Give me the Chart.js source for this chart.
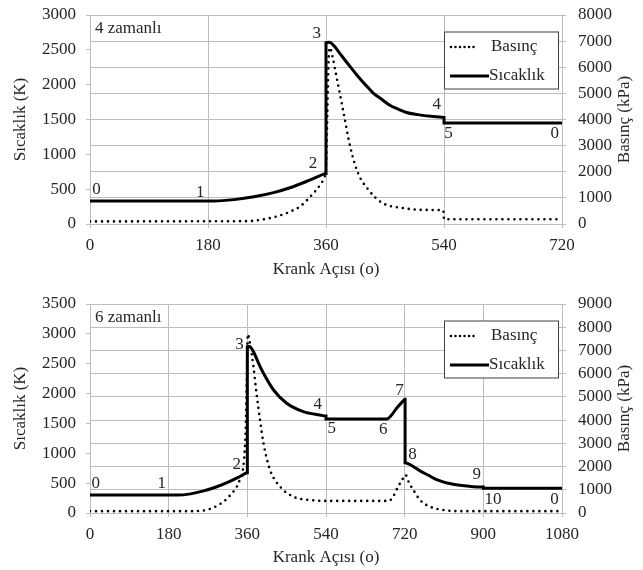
<!DOCTYPE html>
<html>
<head>
<meta charset="utf-8">
<script src="https://cdn.jsdelivr.net/npm/chart.js@4.4.1/dist/chart.umd.min.js"></script>
<style>
  body { margin: 0; background: #fff; }
  canvas { display: block; }
</style>
</head>
<body>
<canvas id="chart4" width="643" height="285"></canvas>
<canvas id="chart6" width="643" height="285"></canvas>
<script>
// 4 zamanli - sicaklik (K) ve basinc (kPa), krank acisina gore
const angle4T = [0, 190, 220, 250, 280, 305, 330, 350, 360, 360, 365, 372, 381, 395, 407, 420, 432, 445, 458, 470, 483, 500, 520, 540, 540, 720];
const temp4 = [330, 330, 350, 390, 450, 520, 610, 690, 725, 2600, 2610, 2560, 2450, 2280, 2140, 2000, 1880, 1790, 1700, 1650, 1600, 1570, 1545, 1530, 1450, 1450];
const angle4P = [0, 240, 255, 270, 290, 305, 320, 336, 351, 358, 360, 362, 364, 366, 370, 376, 386, 397, 409, 425, 445, 480, 510, 539, 540, 720];
const pres4 = [100, 110, 140, 200, 330, 470, 663, 1047, 1494, 1812, 2100, 4200, 6300, 6750, 6400, 5640, 4366, 2950, 1940, 1300, 820, 600, 540, 520, 180, 180];
const marks4 = ['0', '1', '2', '3', '4', '5', '0'];
const markAngle4 = [10, 168, 340, 346, 529, 547, 709];
const markTemp4 = [490, 445, 875, 2735, 1710, 1300, 1300];

// 6 zamanli
const angle6T = [0, 200, 230, 260, 290, 320, 345, 360, 360, 365, 374, 385, 397, 420, 450, 488, 526, 540, 540, 679, 690, 700, 712, 721, 721, 735, 755, 775, 793, 831, 870, 900, 900, 1080];
const temp6 = [300, 300, 320, 370, 440, 530, 620, 675, 2786, 2790, 2700, 2520, 2340, 2060, 1837, 1697, 1641, 1625, 1575, 1575, 1640, 1740, 1840, 1905, 843, 800, 705, 630, 560, 480, 445, 435, 415, 415];
const angle6P = [0, 240, 270, 297, 320, 343, 352, 356, 359, 361, 366, 374, 381, 389, 397, 412, 435, 465, 503, 556, 680, 690, 705, 715, 722, 730, 740, 755, 778, 809, 840, 1080];
const pres6 = [80, 80, 150, 380, 750, 1450, 2200, 3500, 6000, 7700, 7300, 6300, 5154, 4005, 3001, 1852, 1134, 703, 560, 520, 520, 600, 1134, 1450, 1640, 1300, 990, 560, 273, 130, 80, 80];
const marks6 = ['0', '1', '2', '3', '4', '5', '6', '7', '8', '9', '10', '0'];
const markAngle6 = [13, 164, 336, 342, 521, 553, 671, 708, 738, 885, 922, 1063];
const markTemp6 = [497, 497, 804, 2814, 1809, 1419, 1390, 2049, 972, 637, 218, 218];

const FONT = '"Liberation Serif"';
const TXT = '#262626';
const GRID = '#bdbdbd';

const overlay = {
    id: 'overlay',
    afterDatasetsDraw(chart, args, opts) {
        const { ctx, chartArea: area, scales } = chart;
        ctx.save();
        ctx.font = '17px ' + FONT;
        ctx.fillStyle = TXT;
        ctx.textBaseline = 'middle';

        // point numbers
        ctx.textAlign = 'center';
        opts.marks.forEach((m, i) => {
            ctx.fillText(m, scales.x.getPixelForValue(opts.markAngle[i]), scales.y.getPixelForValue(opts.markTemp[i]));
        });

        // "4 zamanli" label
        ctx.textAlign = 'left';
        ctx.fillText(opts.label, area.left + 5, area.top + opts.labelDy);

        // right axis title (reads bottom to top)
        ctx.save();
        ctx.translate(625, (area.top + area.bottom) / 2);
        ctx.rotate(-Math.PI / 2);
        ctx.textAlign = 'center';
        ctx.fillText('Basınç (kPa)', 0, 0);
        ctx.restore();

        // legend box
        const ds = chart.data.datasets;
        const left = area.right - 118, top = area.top + 16.5, w = 114, h = 57;
        ctx.fillStyle = '#fff';
        ctx.fillRect(left, top, w, h);
        ctx.strokeStyle = '#404040';
        ctx.lineWidth = 1;
        ctx.strokeRect(left + 0.5, top + 0.5, w, h);

        ctx.strokeStyle = '#000';
        ctx.lineWidth = 2.5;
        ctx.lineCap = 'round';
        ctx.setLineDash([0, 4.5]);
        ctx.beginPath();
        ctx.moveTo(left + 7, top + 15.5);
        ctx.lineTo(left + 30, top + 15.5);
        ctx.stroke();

        ctx.setLineDash([]);
        ctx.lineCap = 'butt';
        ctx.lineWidth = 3;
        ctx.beginPath();
        ctx.moveTo(left + 6, top + 44.5);
        ctx.lineTo(left + 45, top + 44.5);
        ctx.stroke();

        ctx.fillStyle = TXT;
        ctx.fillText(ds[1].label, left + 47, top + 15);
        ctx.fillText(ds[0].label, left + 45, top + 44);
        ctx.restore();
    }
};

function toPoints(xs, ys) {
    return xs.map((x, i) => ({ x: x, y: ys[i] }));
}

const plain = v => String(v);

function fixWidth(w) {
    return s => {
        s.width = w;
        s.paddingTop = 0;
        s.paddingBottom = 0;
    };
}

function makeChart(id, c) {
    const ctx = document.getElementById(id).getContext('2d');
    return new Chart(ctx, {
        type: 'line',
        data: {
            datasets: [{
                label: 'Sıcaklık',
                data: toPoints(c.angleT, c.temp),
                yAxisID: 'y',
                borderColor: '#000',
                borderWidth: 3,
                pointRadius: 0,
                cubicInterpolationMode: 'monotone'
            }, {
                label: 'Basınç',
                data: toPoints(c.angleP, c.pres),
                yAxisID: 'y1',
                borderColor: '#000',
                borderWidth: 2.6,
                borderDash: [0, 6],
                borderCapStyle: 'round',
                pointRadius: 0,
                cubicInterpolationMode: 'monotone'
            }]
        },
        options: {
            responsive: false,
            animation: false,
            devicePixelRatio: 1,
            layout: { autoPadding: false, padding: { top: c.top, left: 0, right: 0, bottom: 0 } },
            plugins: {
                legend: { display: false },
                tooltip: { enabled: false },
                overlay: {
                    marks: c.marks, markAngle: c.markAngle, markTemp: c.markTemp,
                    label: c.label, labelDy: c.labelDy
                }
            },
            scales: {
                x: {
                    type: 'linear',
                    min: 0, max: c.xMax,
                    afterFit: s => { s.height = c.xHeight; s.paddingLeft = 0; s.paddingRight = 0; },
                    ticks: { stepSize: 180, autoSkip: false, maxRotation: 0, callback: plain, color: TXT, font: { family: FONT, size: 17 }, padding: 7 },
                    grid: { color: GRID, drawTicks: true, tickLength: 4 },
                    border: { display: false },
                    title: { display: true, text: 'Krank Açısı (o)', color: TXT, font: { family: FONT, size: 17 }, padding: { bottom: c.titlePad, top: 0 } }
                },
                y: {
                    position: 'left',
                    min: 0, max: c.yMax,
                    afterFit: fixWidth(90),
                    ticks: { stepSize: 500, autoSkip: false, callback: plain, color: TXT, font: { family: FONT, size: 17 }, padding: 10 },
                    grid: { color: GRID, drawOnChartArea: false, drawTicks: true, tickLength: 4 },
                    border: { display: false },
                    title: { display: true, text: 'Sıcaklık (K)', color: TXT, font: { family: FONT, size: 17 }, padding: { top: 10, bottom: 0 } }
                },
                y1: {
                    position: 'right',
                    min: 0, max: c.y1Max,
                    afterFit: fixWidth(81),
                    ticks: { stepSize: 1000, autoSkip: false, callback: plain, color: TXT, font: { family: FONT, size: 17 }, padding: 12 },
                    grid: { color: GRID, drawTicks: true, tickLength: 4 },
                    border: { display: false }
                }
            }
        },
        plugins: [overlay]
    });
}

function drawAll() {
    makeChart('chart4', {
        angleT: angle4T, temp: temp4, angleP: angle4P, pres: pres4,
        marks: marks4, markAngle: markAngle4, markTemp: markTemp4,
        label: '4 zamanlı', labelDy: 14,
        xMax: 720, yMax: 3000, y1Max: 8000,
        top: 15, xHeight: 61, titlePad: 5
    });

    makeChart('chart6', {
        angleT: angle6T, temp: temp6, angleP: angle6P, pres: pres6,
        marks: marks6, markAngle: markAngle6, markTemp: markTemp6,
        label: '6 zamanlı', labelDy: 14,
        xMax: 1080, yMax: 3500, y1Max: 9000,
        top: 19, xHeight: 57, titlePad: 2
    });
}

document.fonts.load('17px "Liberation Serif"').then(drawAll, drawAll);
</script>
</body>
</html>
